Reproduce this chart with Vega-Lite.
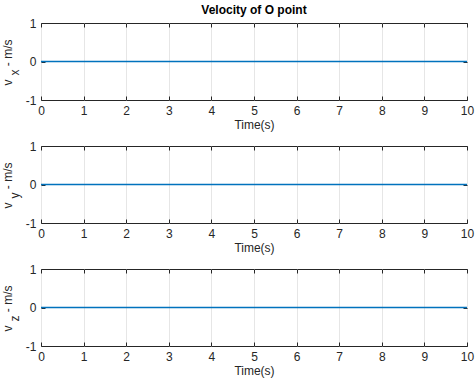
{
  "$schema": "https://vega.github.io/schema/vega-lite/v6.json",
  "background": "white",
  "padding": {"left": 0, "right": 0, "top": 3, "bottom": 3},
  "bounds": "flush",
  "spacing": 46,
  "data": {
    "values": [
      {"t": 0, "vx": 0, "vy": 0, "vz": 0},
      {"t": 1, "vx": 0, "vy": 0, "vz": 0},
      {"t": 2, "vx": 0, "vy": 0, "vz": 0},
      {"t": 3, "vx": 0, "vy": 0, "vz": 0},
      {"t": 4, "vx": 0, "vy": 0, "vz": 0},
      {"t": 5, "vx": 0, "vy": 0, "vz": 0},
      {"t": 6, "vx": 0, "vy": 0, "vz": 0},
      {"t": 7, "vx": 0, "vy": 0, "vz": 0},
      {"t": 8, "vx": 0, "vy": 0, "vz": 0},
      {"t": 9, "vx": 0, "vy": 0, "vz": 0},
      {"t": 10, "vx": 0, "vy": 0, "vz": 0}
    ]
  },
  "vconcat": [
    {
      "title": {"text": "Velocity of O point", "frame": "group", "anchor": "middle", "offset": 0},
      "width": 426,
      "height": 77,
      "layer": [
        {
          "mark": {"type": "line", "color": "#0072BD", "strokeWidth": 1.5},
          "encoding": {
            "x": {"field": "t", "type": "quantitative", "scale": {"domain": [0, 10], "nice": false},
                  "axis": {"orient": "bottom", "values": [0,1,2,3,4,5,6,7,8,9,10], "grid": true, "title": "Time(s)", "titlePadding": 3}},
            "y": {"field": "vx", "type": "quantitative", "scale": {"domain": [-1, 1], "nice": false},
                  "axis": {"orient": "left", "values": [-1, 0, 1], "grid": false, "labelExpr": "'' + datum.value",
                           "titleAlign": "left", "titleY": 62,
                           "title": ["v\u00a0\u00a0\u00a0\u00a0-\u00a0m/s", "\u200b\u00a0\u00a0\u00a0x"]}}
          }
        },
        {
          "mark": {"type": "line", "opacity": 0},
          "encoding": {
            "x": {"field": "t", "type": "quantitative",
                  "axis": {"orient": "top", "values": [0,1,2,3,4,5,6,7,8,9,10], "labels": false, "grid": false, "title": null}},
            "y": {"field": "vx", "type": "quantitative",
                  "axis": {"orient": "right", "values": [-1, 0, 1], "labels": false, "grid": false, "title": null}}
          }
        }
      ],
      "resolve": {"axis": {"x": "independent", "y": "independent"}}
    },
    {
      "width": 426,
      "height": 77,
      "layer": [
        {
          "mark": {"type": "line", "color": "#0072BD", "strokeWidth": 1.5},
          "encoding": {
            "x": {"field": "t", "type": "quantitative", "scale": {"domain": [0, 10], "nice": false},
                  "axis": {"orient": "bottom", "values": [0,1,2,3,4,5,6,7,8,9,10], "grid": true, "title": "Time(s)", "titlePadding": 3}},
            "y": {"field": "vy", "type": "quantitative", "scale": {"domain": [-1, 1], "nice": false},
                  "axis": {"orient": "left", "values": [-1, 0, 1], "grid": false, "labelExpr": "'' + datum.value",
                           "titleAlign": "left", "titleY": 62,
                           "title": ["v\u00a0\u00a0\u00a0\u00a0-\u00a0m/s", "\u200b\u00a0\u00a0\u00a0y"]}}
          }
        },
        {
          "mark": {"type": "line", "opacity": 0},
          "encoding": {
            "x": {"field": "t", "type": "quantitative",
                  "axis": {"orient": "top", "values": [0,1,2,3,4,5,6,7,8,9,10], "labels": false, "grid": false, "title": null}},
            "y": {"field": "vy", "type": "quantitative",
                  "axis": {"orient": "right", "values": [-1, 0, 1], "labels": false, "grid": false, "title": null}}
          }
        }
      ],
      "resolve": {"axis": {"x": "independent", "y": "independent"}}
    },
    {
      "width": 426,
      "height": 77,
      "layer": [
        {
          "mark": {"type": "line", "color": "#0072BD", "strokeWidth": 1.5},
          "encoding": {
            "x": {"field": "t", "type": "quantitative", "scale": {"domain": [0, 10], "nice": false},
                  "axis": {"orient": "bottom", "values": [0,1,2,3,4,5,6,7,8,9,10], "grid": true, "title": "Time(s)", "titlePadding": 3}},
            "y": {"field": "vz", "type": "quantitative", "scale": {"domain": [-1, 1], "nice": false},
                  "axis": {"orient": "left", "values": [-1, 0, 1], "grid": false, "labelExpr": "'' + datum.value",
                           "titleAlign": "left", "titleY": 62,
                           "title": ["v\u00a0\u00a0\u00a0\u00a0-\u00a0m/s", "\u200b\u00a0\u00a0\u00a0z"]}}
          }
        },
        {
          "mark": {"type": "line", "opacity": 0},
          "encoding": {
            "x": {"field": "t", "type": "quantitative",
                  "axis": {"orient": "top", "values": [0,1,2,3,4,5,6,7,8,9,10], "labels": false, "grid": false, "title": null}},
            "y": {"field": "vz", "type": "quantitative",
                  "axis": {"orient": "right", "values": [-1, 0, 1], "labels": false, "grid": false, "title": null}}
          }
        }
      ],
      "resolve": {"axis": {"x": "independent", "y": "independent"}}
    }
  ],
  "config": {
    "font": "Liberation Sans",
    "view": {"stroke": "#262626", "strokeWidth": 1},
    "title": {"font": "Liberation Sans", "fontSize": 12, "fontWeight": "bold", "color": "#000000"},
    "axis": {
      "domain": false,
      "labelFont": "Liberation Sans",
      "labelFontSize": 12,
      "labelColor": "#262626",
      "labelPadding": 9,
      "labelFlush": false,
      "labelOverlap": false,
      "titleFont": "Liberation Sans",
      "titleFontSize": 12,
      "titleFontWeight": "normal",
      "titleColor": "#262626",
      "titleLineHeight": 7,
      "titlePadding": 4,
      "tickColor": "#262626",
      "tickSize": -4,
      "tickWidth": 1,
      "gridColor": "#e6e6e6",
      "gridWidth": 1
    }
  }
}
